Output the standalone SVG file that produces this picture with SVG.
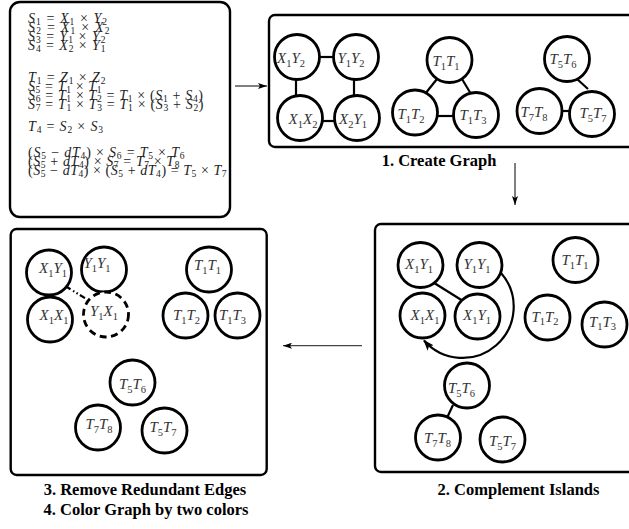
<svg xmlns="http://www.w3.org/2000/svg" width="629" height="529" viewBox="0 0 629 529">
<style>
.box{fill:none;stroke:#000;stroke-width:2.4}
.nd{fill:#fff;stroke:#000;stroke-width:2.8}
.ed{stroke:#000;stroke-width:2.2;fill:none}
.eq{font-family:"Liberation Serif",serif;font-size:14px;fill:#222}
.v{font-style:italic}
.s{font-size:9.5px;font-style:normal}
.nl{font-family:"Liberation Serif",serif;font-size:15px;font-style:italic;fill:#333;text-anchor:middle}
.ns{font-size:10.5px;font-style:normal}
.cap{font-family:"Liberation Serif",serif;font-size:16.5px;font-weight:bold;fill:#000;text-anchor:middle}
</style>
<defs>
<marker id="ah" markerWidth="9" markerHeight="6" refX="9" refY="3" orient="auto" markerUnits="userSpaceOnUse"><path d="M0,0 L9,3 L0,6 L2,3 z" fill="#000"/></marker>
<marker id="ahb" markerWidth="11" markerHeight="8" refX="10" refY="4" orient="auto" markerUnits="userSpaceOnUse"><path d="M0,0 L11,4 L0,8 L2.5,4 z" fill="#000"/></marker>
</defs>

<!-- Panels -->
<g id="panel-equations">
<rect class="box" x="10" y="2" width="220" height="215" rx="10"/>
<text class="eq" x="28" y="22.5" textLength="79" lengthAdjust="spacing"><tspan class="v">S</tspan><tspan class="s" dy="2.5">1</tspan><tspan dy="-2.5"> = </tspan><tspan class="v">X</tspan><tspan class="s" dy="2.5">1</tspan><tspan dy="-2.5"> × </tspan><tspan class="v">Y</tspan><tspan class="s" dy="2.5">2</tspan></text>
<text class="eq" x="28" y="31.5" textLength="81.5" lengthAdjust="spacing"><tspan class="v">S</tspan><tspan class="s" dy="2.5">2</tspan><tspan dy="-2.5"> = </tspan><tspan class="v">X</tspan><tspan class="s" dy="2.5">1</tspan><tspan dy="-2.5"> × </tspan><tspan class="v">X</tspan><tspan class="s" dy="2.5">2</tspan></text>
<text class="eq" x="28" y="40.5" textLength="77.5" lengthAdjust="spacing"><tspan class="v">S</tspan><tspan class="s" dy="2.5">3</tspan><tspan dy="-2.5"> = </tspan><tspan class="v">Y</tspan><tspan class="s" dy="2.5">1</tspan><tspan dy="-2.5"> × </tspan><tspan class="v">Y</tspan><tspan class="s" dy="2.5">2</tspan></text>
<text class="eq" x="28" y="49.5" textLength="77.5" lengthAdjust="spacing"><tspan class="v">S</tspan><tspan class="s" dy="2.5">4</tspan><tspan dy="-2.5"> = </tspan><tspan class="v">X</tspan><tspan class="s" dy="2.5">2</tspan><tspan dy="-2.5"> × </tspan><tspan class="v">Y</tspan><tspan class="s" dy="2.5">1</tspan></text>
<text class="eq" x="28" y="81.5" textLength="77.5" lengthAdjust="spacing"><tspan class="v">T</tspan><tspan class="s" dy="2.5">1</tspan><tspan dy="-2.5"> = </tspan><tspan class="v">Z</tspan><tspan class="s" dy="2.5">1</tspan><tspan dy="-2.5"> × </tspan><tspan class="v">Z</tspan><tspan class="s" dy="2.5">2</tspan></text>
<text class="eq" x="28" y="90.5" textLength="73.5" lengthAdjust="spacing"><tspan class="v">S</tspan><tspan class="s" dy="2.5">5</tspan><tspan dy="-2.5"> = </tspan><tspan class="v">T</tspan><tspan class="s" dy="2.5">1</tspan><tspan dy="-2.5"> × </tspan><tspan class="v">T</tspan><tspan class="s" dy="2.5">1</tspan></text>
<text class="eq" x="28" y="99.5" textLength="175" lengthAdjust="spacing"><tspan class="v">S</tspan><tspan class="s" dy="2.5">6</tspan><tspan dy="-2.5"> = </tspan><tspan class="v">T</tspan><tspan class="s" dy="2.5">1</tspan><tspan dy="-2.5"> × </tspan><tspan class="v">T</tspan><tspan class="s" dy="2.5">2</tspan><tspan dy="-2.5"> = </tspan><tspan class="v">T</tspan><tspan class="s" dy="2.5">1</tspan><tspan dy="-2.5"> × (</tspan><tspan class="v">S</tspan><tspan class="s" dy="2.5">1</tspan><tspan dy="-2.5"> + </tspan><tspan class="v">S</tspan><tspan class="s" dy="2.5">4</tspan><tspan dy="-2.5">)</tspan></text>
<text class="eq" x="28" y="108.5" textLength="175.5" lengthAdjust="spacing"><tspan class="v">S</tspan><tspan class="s" dy="2.5">7</tspan><tspan dy="-2.5"> = </tspan><tspan class="v">T</tspan><tspan class="s" dy="2.5">1</tspan><tspan dy="-2.5"> × </tspan><tspan class="v">T</tspan><tspan class="s" dy="2.5">3</tspan><tspan dy="-2.5"> = </tspan><tspan class="v">T</tspan><tspan class="s" dy="2.5">1</tspan><tspan dy="-2.5"> × (</tspan><tspan class="v">S</tspan><tspan class="s" dy="2.5">3</tspan><tspan dy="-2.5"> + </tspan><tspan class="v">S</tspan><tspan class="s" dy="2.5">2</tspan><tspan dy="-2.5">)</tspan></text>
<text class="eq" x="28" y="130.5" textLength="75" lengthAdjust="spacing"><tspan class="v">T</tspan><tspan class="s" dy="2.5">4</tspan><tspan dy="-2.5"> = </tspan><tspan class="v">S</tspan><tspan class="s" dy="2.5">2</tspan><tspan dy="-2.5"> × </tspan><tspan class="v">S</tspan><tspan class="s" dy="2.5">3</tspan></text>
<text class="eq" x="28" y="156.5" textLength="156.5" lengthAdjust="spacing"><tspan>(</tspan><tspan class="v">S</tspan><tspan class="s" dy="2.5">5</tspan><tspan dy="-2.5"> − </tspan><tspan class="v">dT</tspan><tspan class="s" dy="2.5">4</tspan><tspan dy="-2.5">) × </tspan><tspan class="v">S</tspan><tspan class="s" dy="2.5">6</tspan><tspan dy="-2.5"> = </tspan><tspan class="v">T</tspan><tspan class="s" dy="2.5">5</tspan><tspan dy="-2.5"> × </tspan><tspan class="v">T</tspan><tspan class="s" dy="2.5">6</tspan></text>
<text class="eq" x="28" y="165.5" textLength="151.5" lengthAdjust="spacing"><tspan>(</tspan><tspan class="v">S</tspan><tspan class="s" dy="2.5">5</tspan><tspan dy="-2.5"> + </tspan><tspan class="v">dT</tspan><tspan class="s" dy="2.5">4</tspan><tspan dy="-2.5">) × </tspan><tspan class="v">S</tspan><tspan class="s" dy="2.5">7</tspan><tspan dy="-2.5"> = </tspan><tspan class="v">T</tspan><tspan class="s" dy="2.5">7</tspan><tspan dy="-2.5"> × </tspan><tspan class="v">T</tspan><tspan class="s" dy="2.5">8</tspan></text>
<text class="eq" x="28" y="174.5" textLength="198.5" lengthAdjust="spacing"><tspan>(</tspan><tspan class="v">S</tspan><tspan class="s" dy="2.5">5</tspan><tspan dy="-2.5"> − </tspan><tspan class="v">dT</tspan><tspan class="s" dy="2.5">4</tspan><tspan dy="-2.5">) × (</tspan><tspan class="v">S</tspan><tspan class="s" dy="2.5">5</tspan><tspan dy="-2.5"> + </tspan><tspan class="v">dT</tspan><tspan class="s" dy="2.5">4</tspan><tspan dy="-2.5">) = </tspan><tspan class="v">T</tspan><tspan class="s" dy="2.5">5</tspan><tspan dy="-2.5"> × </tspan><tspan class="v">T</tspan><tspan class="s" dy="2.5">7</tspan></text>
</g>

<g id="panel-create">
<rect class="box" x="269" y="15" width="380" height="132" rx="6"/>
<text class="cap" x="439" y="166">1. Create Graph</text>
</g>
<g id="panel-complement">
<rect class="box" x="375" y="224" width="270" height="248" rx="6"/>
<text class="cap" x="518.5" y="495">2. Complement Islands</text>
</g>
<g id="panel-remove">
<rect class="box" x="10.7" y="229" width="256" height="246" rx="6"/>
<text class="cap" x="145" y="495">3. Remove Redundant Edges</text>
<text class="cap" x="146" y="514.5">4. Color Graph by two colors</text>
</g>

<!-- Connectors -->
<g id="connectors">
<line x1="235" y1="86" x2="267" y2="86" stroke="#000" stroke-width="1" marker-end="url(#ah)"/>
<line x1="515" y1="163" x2="515" y2="205" stroke="#000" stroke-width="1" marker-end="url(#ah)"/>
<line x1="362" y1="345.7" x2="283" y2="345.7" stroke="#444" stroke-width="1.3" marker-end="url(#ah)"/>
<!-- panel 1 edges -->
<line class="ed" x1="320" y1="57" x2="334" y2="57"/>
<line class="ed" x1="296" y1="80" x2="296" y2="96"/>
<line class="ed" x1="354" y1="80" x2="354" y2="96"/>
<line class="ed" x1="322" y1="121" x2="335" y2="121"/>
<line class="ed" x1="437" y1="79" x2="425" y2="94"/>
<line class="ed" x1="462" y1="79" x2="471" y2="94"/>
<line class="ed" x1="437" y1="116" x2="454" y2="116" stroke-width="3.5"/>
<line class="ed" x1="577" y1="79" x2="588" y2="89"/>
<line class="ed" x1="561" y1="111" x2="570" y2="111" stroke-width="3"/>
<!-- panel 2 edges -->
<line class="ed" x1="431" y1="281" x2="463" y2="301"/>
<path class="ed" d="M 501 273 A 51 51 0 1 1 424 340.5" stroke-width="2.6" marker-end="url(#ahb)"/>
<line class="ed" x1="453" y1="405" x2="446" y2="420"/>
<!-- panel 3 edges -->
<line class="ed" x1="62" y1="284" x2="88" y2="300" stroke-width="2.6" stroke-dasharray="10,3,1.5,2.5,1.5,2.5,6"/>
</g>

<!-- Panel 1 nodes -->
<g id="c1-X1Y2"><circle class="nd" cx="297" cy="57" r="22.5"/><text class="nl" x="291" y="63">X<tspan class="ns" dy="3.5">1</tspan><tspan dy="-3.5">Y</tspan><tspan class="ns" dy="3.5">2</tspan></text></g>
<g id="c1-Y1Y2"><circle class="nd" cx="356" cy="57" r="22.5"/><text class="nl" x="351" y="63">Y<tspan class="ns" dy="3.5">1</tspan><tspan dy="-3.5">Y</tspan><tspan class="ns" dy="3.5">2</tspan></text></g>
<g id="c1-X1X2"><circle class="nd" cx="300" cy="118" r="22.5"/><text class="nl" x="303" y="124">X<tspan class="ns" dy="3.5">1</tspan><tspan dy="-3.5">X</tspan><tspan class="ns" dy="3.5">2</tspan></text></g>
<g id="c1-X2Y1"><circle class="nd" cx="357" cy="118" r="22.5"/><text class="nl" x="353" y="124">X<tspan class="ns" dy="3.5">2</tspan><tspan dy="-3.5">Y</tspan><tspan class="ns" dy="3.5">1</tspan></text></g>
<g id="c1-T1T1"><circle class="nd" cx="449.5" cy="60" r="22.5"/><text class="nl" x="446" y="66">T<tspan class="ns" dy="3.5">1</tspan><tspan dy="-3.5">T</tspan><tspan class="ns" dy="3.5">1</tspan></text></g>
<g id="c1-T1T2"><circle class="nd" cx="415" cy="112.5" r="22.5"/><text class="nl" x="411" y="119">T<tspan class="ns" dy="3.5">1</tspan><tspan dy="-3.5">T</tspan><tspan class="ns" dy="3.5">2</tspan></text></g>
<g id="c1-T1T3"><circle class="nd" cx="476" cy="115" r="22.5"/><text class="nl" x="473" y="120">T<tspan class="ns" dy="3.5">1</tspan><tspan dy="-3.5">T</tspan><tspan class="ns" dy="3.5">3</tspan></text></g>
<g id="c1-T5T6"><circle class="nd" cx="567" cy="59" r="22.5"/><text class="nl" x="563" y="64">T<tspan class="ns" dy="3.5">5</tspan><tspan dy="-3.5">T</tspan><tspan class="ns" dy="3.5">6</tspan></text></g>
<g id="c1-T7T8"><circle class="nd" cx="539.5" cy="111" r="22.5"/><text class="nl" x="534" y="117">T<tspan class="ns" dy="3.5">7</tspan><tspan dy="-3.5">T</tspan><tspan class="ns" dy="3.5">8</tspan></text></g>
<g id="c1-T5T7"><circle class="nd" cx="592" cy="114" r="22.5"/><text class="nl" x="593" y="118">T<tspan class="ns" dy="3.5">5</tspan><tspan dy="-3.5">T</tspan><tspan class="ns" dy="3.5">7</tspan></text></g>

<!-- Panel 2 nodes -->
<g id="c2-X1Y1a"><circle class="nd" cx="420.5" cy="265" r="22.5"/><text class="nl" x="419" y="269">X<tspan class="ns" dy="3.5">1</tspan><tspan dy="-3.5">Y</tspan><tspan class="ns" dy="3.5">1</tspan></text></g>
<g id="c2-Y1Y1"><circle class="nd" cx="479.5" cy="265" r="22.5"/><text class="nl" x="477" y="269">Y<tspan class="ns" dy="3.5">1</tspan><tspan dy="-3.5">Y</tspan><tspan class="ns" dy="3.5">1</tspan></text></g>
<g id="c2-T1T1"><circle class="nd" cx="575.5" cy="260" r="22.5"/><text class="nl" x="575" y="265">T<tspan class="ns" dy="3.5">1</tspan><tspan dy="-3.5">T</tspan><tspan class="ns" dy="3.5">1</tspan></text></g>
<g id="c2-X1X1"><circle class="nd" cx="422.5" cy="315.5" r="22.5"/><text class="nl" x="425" y="320">X<tspan class="ns" dy="3.5">1</tspan><tspan dy="-3.5">X</tspan><tspan class="ns" dy="3.5">1</tspan></text></g>
<g id="c2-X1Y1b"><circle class="nd" cx="477.5" cy="316.5" r="22.5"/><text class="nl" x="477" y="320">X<tspan class="ns" dy="3.5">1</tspan><tspan dy="-3.5">Y</tspan><tspan class="ns" dy="3.5">1</tspan></text></g>
<g id="c2-T1T2"><circle class="nd" cx="547.5" cy="317.5" r="22.5"/><text class="nl" x="545" y="321.5">T<tspan class="ns" dy="3.5">1</tspan><tspan dy="-3.5">T</tspan><tspan class="ns" dy="3.5">2</tspan></text></g>
<g id="c2-T1T3"><circle class="nd" cx="604.5" cy="324.5" r="22.5"/><text class="nl" x="602.5" y="326.5">T<tspan class="ns" dy="3.5">1</tspan><tspan dy="-3.5">T</tspan><tspan class="ns" dy="3.5">3</tspan></text></g>
<g id="c2-T5T6"><circle class="nd" cx="467" cy="385.5" r="22.5"/><text class="nl" x="461.5" y="393">T<tspan class="ns" dy="3.5">5</tspan><tspan dy="-3.5">T</tspan><tspan class="ns" dy="3.5">6</tspan></text></g>
<g id="c2-T7T8"><circle class="nd" cx="438" cy="437.5" r="22.5"/><text class="nl" x="437.5" y="443">T<tspan class="ns" dy="3.5">7</tspan><tspan dy="-3.5">T</tspan><tspan class="ns" dy="3.5">8</tspan></text></g>
<g id="c2-T5T7"><circle class="nd" cx="502.5" cy="439.5" r="22.5"/><text class="nl" x="502.5" y="446">T<tspan class="ns" dy="3.5">5</tspan><tspan dy="-3.5">T</tspan><tspan class="ns" dy="3.5">7</tspan></text></g>

<!-- Panel 3 nodes -->
<g id="c3-X1Y1"><circle class="nd" cx="49" cy="272.5" r="22.5"/><text class="nl" x="53" y="273">X<tspan class="ns" dy="3.5">1</tspan><tspan dy="-3.5">Y</tspan><tspan class="ns" dy="3.5">1</tspan></text></g>
<g id="c3-Y1Y1"><circle class="nd" cx="104" cy="269.5" r="22.5"/><text class="nl" x="97" y="268">Y<tspan class="ns" dy="3.5">1</tspan><tspan dy="-3.5">Y</tspan><tspan class="ns" dy="3.5">1</tspan></text></g>
<g id="c3-T1T1"><circle class="nd" cx="209" cy="269.5" r="22.5"/><text class="nl" x="207.5" y="270">T<tspan class="ns" dy="3.5">1</tspan><tspan dy="-3.5">T</tspan><tspan class="ns" dy="3.5">1</tspan></text></g>
<g id="c3-X1X1"><circle class="nd" cx="50" cy="319.5" r="22.5"/><text class="nl" x="54" y="320">X<tspan class="ns" dy="3.5">1</tspan><tspan dy="-3.5">X</tspan><tspan class="ns" dy="3.5">1</tspan></text></g>
<g id="c3-Y1X1"><circle class="nd" cx="106" cy="314.5" r="22.5" stroke-dasharray="7,4.5"/><text class="nl" x="104" y="316">Y<tspan class="ns" dy="3.5">1</tspan><tspan dy="-3.5">X</tspan><tspan class="ns" dy="3.5">1</tspan></text></g>
<g id="c3-T1T2"><circle class="nd" cx="185.5" cy="315.5" r="22.5"/><text class="nl" x="186.5" y="320">T<tspan class="ns" dy="3.5">1</tspan><tspan dy="-3.5">T</tspan><tspan class="ns" dy="3.5">2</tspan></text></g>
<g id="c3-T1T3"><circle class="nd" cx="237.5" cy="315.5" r="22.5"/><text class="nl" x="232.5" y="320">T<tspan class="ns" dy="3.5">1</tspan><tspan dy="-3.5">T</tspan><tspan class="ns" dy="3.5">3</tspan></text></g>
<g id="c3-T5T6"><circle class="nd" cx="132.5" cy="382.5" r="22.5"/><text class="nl" x="132.5" y="389">T<tspan class="ns" dy="3.5">5</tspan><tspan dy="-3.5">T</tspan><tspan class="ns" dy="3.5">6</tspan></text></g>
<g id="c3-T7T8"><circle class="nd" cx="98" cy="427.5" r="22.5"/><text class="nl" x="99" y="429">T<tspan class="ns" dy="3.5">7</tspan><tspan dy="-3.5">T</tspan><tspan class="ns" dy="3.5">8</tspan></text></g>
<g id="c3-T5T7"><circle class="nd" cx="164.5" cy="430.5" r="22.5"/><text class="nl" x="163" y="432">T<tspan class="ns" dy="3.5">5</tspan><tspan dy="-3.5">T</tspan><tspan class="ns" dy="3.5">7</tspan></text></g>
</svg>
